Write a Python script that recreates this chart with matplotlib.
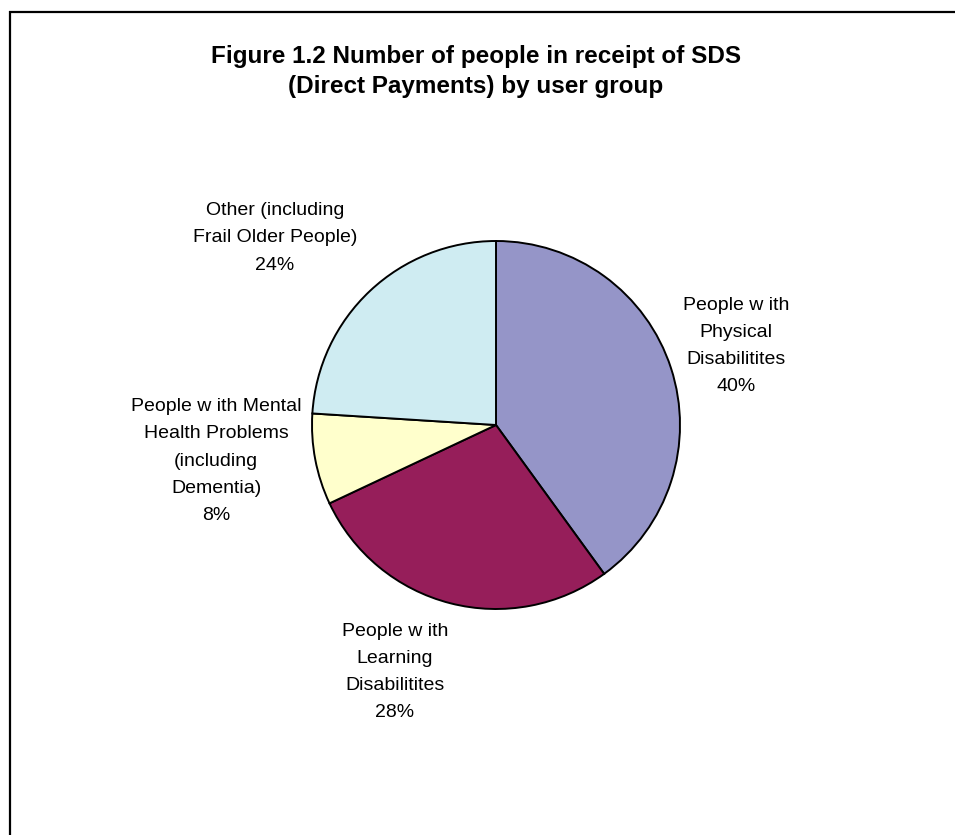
import matplotlib
matplotlib.use("Agg")
import matplotlib.pyplot as plt

# User groups receiving SDS (Direct Payments), share in percent
groups = [
    "People w ith\nPhysical\nDisabilitites",
    "People w ith\nLearning\nDisabilitites",
    "People w ith Mental\nHealth Problems\n(including\nDementia)",
    "Other (including\nFrail Older People)",
]
shares = [40, 28, 8, 24]
colors = ["#9595C8", "#961E5A", "#FFFFCC", "#CFECF2"]

title = "Figure 1.2 Number of people in receipt of SDS\n(Direct Payments) by user group"

W, H = 955, 835
fig = plt.figure(figsize=(W / 100, H / 100), dpi=100)
ax = fig.add_axes([0, 0, 1, 1])

font = "Liberation Sans"

cx, cy, r = 496, H - 425, 184
ax.pie(
    shares,
    colors=colors,
    startangle=90,
    counterclock=False,
    center=(cx, cy),
    radius=r,
    wedgeprops=dict(edgecolor="black", linewidth=1.4),
    frame=True,
)
ax.set_xlim(0, W)
ax.set_ylim(0, H)
ax.set_aspect("equal")
ax.axis("off")

# label anchor points (pixel coordinates, y measured from top)
label_pos = [(736, 346), (395, 672), (216, 461), (275, 238)]
for text, val, (lx, ly) in zip(groups, shares, label_pos):
    ax.text(lx, H - ly, f"{text}\n{val}%", ha="center", va="center",
            fontsize=14, family=font, linespacing=1.79, color="black")

# title, one baseline per line
for i, line in enumerate(title.split("\n")):
    ax.text(476, H - (63 + 30 * i), line, ha="center", va="baseline",
            fontsize=17.5, fontweight="bold", family=font)

# chart area frame (top and left edges visible)
ax.plot([9, W + 5], [H - 12, H - 12], color="black", lw=1.6, solid_capstyle="butt",
        clip_on=False)
ax.plot([10, 10], [H - 11, -5], color="black", lw=1.6, solid_capstyle="butt",
        clip_on=False)

fig.savefig("out.png", dpi=100)
